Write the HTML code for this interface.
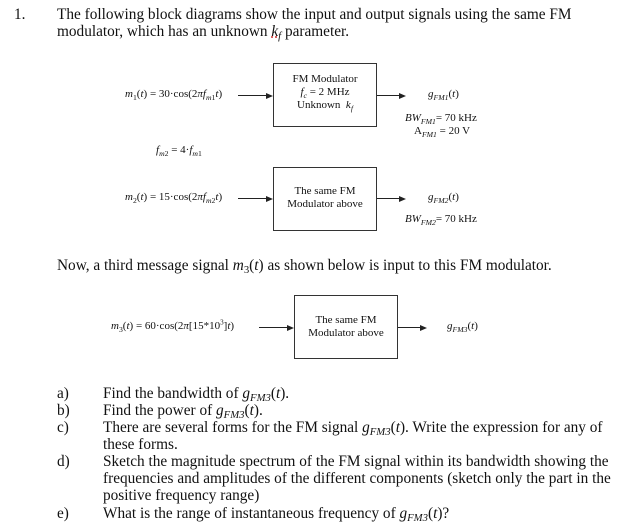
<!DOCTYPE html>
<html><head><meta charset="utf-8"><style>
body{margin:0;width:624px;height:530px;background:#fff;position:relative;font-family:"Liberation Serif",serif;color:#111;overflow:hidden}
.a{position:absolute;white-space:nowrap}
.t{font-size:15.3px;line-height:17px}
.s{font-size:11px;line-height:13px}
.box{position:absolute;border:1.3px solid #333;box-sizing:border-box;text-align:center;font-size:11px;line-height:13px}
.ln{position:absolute;height:1.2px;background:#222}
.ar{position:absolute;width:0;height:0;border-top:3px solid transparent;border-bottom:3px solid transparent;border-left:7px solid #222}
sub{font-size:70%;vertical-align:-3px;line-height:0}
sup{font-size:65%;line-height:0}
i{font-style:italic}
</style></head><body>
<div class="a t" style="left:14px;top:6px">1.</div>
<div class="a t" style="left:57px;top:6px">The following block diagrams show the input and output signals using the same FM</div>
<div class="a t" style="left:57px;top:23px">modulator, which has an unknown <i style="text-decoration:underline dotted #c33">k<sub>f</sub></i> parameter.</div>

<div class="a s" style="left:125px;top:88px"><i>m</i><sub>1</sub>(<i>t</i>) = 30·cos(2<i>πf</i><sub><i>m</i>1</sub><i>t</i>)</div>
<div class="ln" style="left:238px;top:95px;width:28px"></div><div class="ar" style="left:266px;top:93px"></div>
<div class="box" style="left:273px;top:63px;width:104px;height:64px;padding-top:9px">FM Modulator<br><i>f<sub>c</sub></i> = 2 MHz<br>Unknown &nbsp;<i>k<sub>f</sub></i></div>
<div class="ln" style="left:377px;top:95px;width:22px"></div><div class="ar" style="left:399px;top:93px"></div>
<div class="a s" style="left:428px;top:88px"><i>g<sub>FM1</sub></i>(<i>t</i>)</div>
<div class="a s" style="left:405px;top:112px"><i>BW<sub>FM1</sub></i>= 70 kHz</div>
<div class="a s" style="left:414px;top:125px">A<sub><i>FM1</i></sub> = 20 V</div>
<div class="a s" style="left:156px;top:144px"><i>f</i><sub><i>m</i>2</sub> = 4·<i>f</i><sub><i>m</i>1</sub></div>

<div class="a s" style="left:125px;top:191px"><i>m</i><sub>2</sub>(<i>t</i>) = 15·cos(2<i>πf</i><sub><i>m</i>2</sub><i>t</i>)</div>
<div class="ln" style="left:238px;top:198px;width:28px"></div><div class="ar" style="left:266px;top:196px"></div>
<div class="box" style="left:273px;top:167px;width:104px;height:64px;padding-top:17px">The same FM<br>Modulator above</div>
<div class="ln" style="left:377px;top:198px;width:22px"></div><div class="ar" style="left:399px;top:196px"></div>
<div class="a s" style="left:428px;top:191px"><i>g<sub>FM2</sub></i>(<i>t</i>)</div>
<div class="a s" style="left:405px;top:213px"><i>BW<sub>FM2</sub></i>= 70 kHz</div>

<div class="a t" style="left:57px;top:257px">Now, a third message signal <i>m</i><sub>3</sub>(<i>t</i>) as shown below is input to this FM modulator.</div>

<div class="a s" style="left:111px;top:320px"><i>m</i><sub>3</sub>(<i>t</i>) = 60·cos(2<i>π</i>[15*10<sup>3</sup>]<i>t</i>)</div>
<div class="ln" style="left:259px;top:327px;width:28px"></div><div class="ar" style="left:287px;top:325px"></div>
<div class="box" style="left:294px;top:295px;width:104px;height:64px;padding-top:18px">The same FM<br>Modulator above</div>
<div class="ln" style="left:398px;top:327px;width:22px"></div><div class="ar" style="left:420px;top:325px"></div>
<div class="a s" style="left:447px;top:320px"><i>g<sub>FM3</sub></i>(<i>t</i>)</div>

<div class="a t" style="left:57px;top:385px">a)</div><div class="a t" style="left:103px;top:385px">Find the bandwidth of <i>g<sub>FM3</sub></i>(<i>t</i>).</div>
<div class="a t" style="left:57px;top:402px">b)</div><div class="a t" style="left:103px;top:402px">Find the power of <i>g<sub>FM3</sub></i>(<i>t</i>).</div>
<div class="a t" style="left:57px;top:419px">c)</div><div class="a t" style="left:103px;top:419px">There are several forms for the FM signal <i>g<sub>FM3</sub></i>(<i>t</i>). Write the expression for any of</div>
<div class="a t" style="left:103px;top:436px">these forms.</div>
<div class="a t" style="left:57px;top:453px">d)</div><div class="a t" style="left:103px;top:453px">Sketch the magnitude spectrum of the FM signal within its bandwidth showing the</div>
<div class="a t" style="left:103px;top:470px">frequencies and amplitudes of the different components (sketch only the part in the</div>
<div class="a t" style="left:103px;top:487px">positive frequency range)</div>
<div class="a t" style="left:57px;top:505px">e)</div><div class="a t" style="left:103px;top:505px">What is the range of instantaneous frequency of <i>g<sub>FM3</sub></i>(<i>t</i>)?</div>
</body></html>
